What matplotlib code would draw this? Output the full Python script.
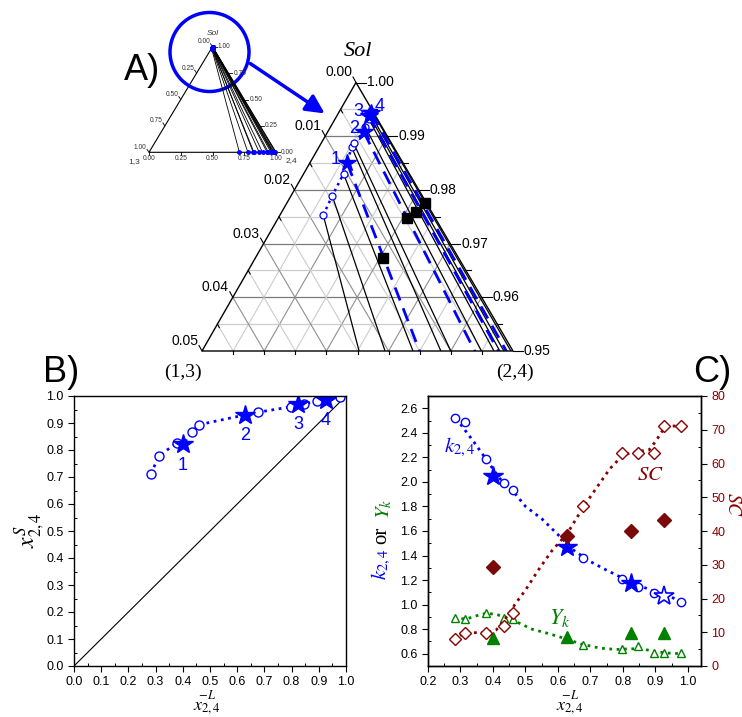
import numpy as np
import matplotlib.pyplot as plt
from matplotlib.patches import Polygon, Circle
from matplotlib.ticker import MultipleLocator

plt.rcParams['font.family'] = ['Liberation Sans', 'DejaVu Sans']
plt.rcParams['mathtext.fontset'] = 'stix'

# ---------------- data ----------------
# open points: liquid / solid mole fraction of (2,4), total solute in liquid
xL_open = [0.282, 0.314, 0.377, 0.435, 0.461, 0.678, 0.797, 0.847, 0.895, 0.978]
xS_open = [0.712, 0.779, 0.826, 0.868, 0.894, 0.940, 0.960, 0.972, 0.980, 0.995]
sol_open = [0.0247, 0.0211, 0.0170, 0.0120, 0.0113, 0.0083, 0.0068, 0.0060, 0.0058, 0.0055]

# starred points 1-4
xL_star = [0.401, 0.629, 0.825, 0.926]
xS_star = [0.821, 0.930, 0.970, 0.985]
sol_star = [0.0150, 0.0092, 0.0062, 0.0057]
star_names = ['1', '2', '3', '4']

# black squares in the ternary: Sol fraction, (2,4) fraction
sq_sol = [0.9673, 0.9748, 0.9758, 0.9775]
sq_b = [0.0205, 0.0206, 0.0217, 0.0222]

# panel C
k_circ = [2.519, 2.486, 2.185, 1.992, 1.932, 1.379, 1.208, 1.143, 1.094, 1.021]
k_star = [2.052, 1.466, 1.175, 1.067]
xC_open = [0.282, 0.314, 0.377, 0.435, 0.461, 0.678, 0.797, 0.847, 0.895, 0.926, 0.978]
sc_open = [7.9, 9.8, 9.9, 11.9, 15.6, 47.4, 63.2, 63.2, 63.2, 71.2, 71.2]
yk_open = [0.890, 0.882, 0.935, 0.888, 0.882, 0.668, 0.641, 0.660, 0.605, 0.605, 0.605]
sc_star = [29.4, 38.5, 40.1, 43.3]
yk_star = [0.728, 0.736, 0.768, 0.768]

# fitted (dotted) curves
k_fit_x = [0.30, 0.34, 0.38, 0.42, 0.46, 0.50, 0.55, 0.60, 0.65, 0.70, 0.75, 0.80, 0.85, 0.90, 0.95, 0.98]
k_fit_y = [2.47, 2.33, 2.18, 2.03, 1.93, 1.80, 1.70, 1.57, 1.44, 1.35, 1.28, 1.215, 1.155, 1.105, 1.06, 1.02]
yk_fit_x = [0.28, 0.32, 0.35, 0.38, 0.41, 0.45, 0.48, 0.52, 0.57, 0.62, 0.67, 0.73, 0.78, 0.82, 0.86, 0.90, 0.94, 0.98]
yk_fit_y = [0.885, 0.885, 0.91, 0.93, 0.92, 0.89, 0.85, 0.80, 0.765, 0.725, 0.68, 0.645, 0.635, 0.64, 0.64, 0.615, 0.605, 0.60]
sc_fit_x = [0.28, 0.31, 0.35, 0.38, 0.41, 0.43, 0.45, 0.47, 0.50, 0.54, 0.58, 0.63, 0.68, 0.72, 0.76, 0.80, 0.84, 0.88, 0.90, 0.93, 0.98]
sc_fit_y = [7.7, 9.7, 9.9, 9.9, 10.7, 13.0, 15.6, 18.6, 22.5, 28.5, 34.0, 39.5, 47.4, 53.0, 58.5, 62.5, 63.5, 64.0, 66.5, 71.0, 71.2]

BLUE = '#0000ff'
DRED = '#8b0000'
GREEN = '#008000'

W, H = 742, 717
fig = plt.figure(figsize=(W / 100, H / 100), dpi=100)

# overlay in pixel coordinates for the ternary parts and free labels
ov = fig.add_axes([0, 0, 1, 1])
ov.set_xlim(0, W)
ov.set_ylim(H, 0)
ov.axis('off')


def tern(s, b, tri, s0):
    (ax_, ay_), (lx, ly), (rx, ry) = tri
    w = 1 - s0
    sp = (np.asarray(s, float) - s0) / w
    bp = np.asarray(b, float) / w
    return lx + bp * (rx - lx) + sp * (ax_ - lx), ly + sp * (ay_ - ly)


# ---------------- A) zoomed ternary ----------------
TRI = [(356, 82.5), (202, 351), (513, 351)]
S0 = 0.95
w = 1 - S0

for k in range(1, 10):
    v = k / 10
    cmaj = k % 2 == 0
    x, y = tern([S0 + v * w] * 2, [0, (1 - v) * w], TRI, S0)
    ov.plot(x, y, color='#7a7a7a' if cmaj else '#cccccc', lw=0.9, zorder=1)
    x, y = tern([S0, S0 + (1 - v) * w], [v * w, v * w], TRI, S0)
    ov.plot(x, y, color='#8f8f8f' if cmaj else '#cccccc', lw=0.8, zorder=1)
    x, y = tern([S0, S0 + (1 - v) * w], [(1 - v) * w, 0], TRI, S0)
    ov.plot(x, y, color='#8f8f8f' if cmaj else '#cccccc', lw=0.8, zorder=1)

tri_patch = Polygon(TRI, closed=True, fill=False, ec='black', lw=1.0, zorder=3)
ov.add_patch(tri_patch)

# ticks and labels
for k in range(0, 11):
    v = k / 10
    major = k % 2 == 0
    # right axis (Sol)
    x, y = tern(S0 + v * w, (1 - v) * w, TRI, S0)
    ov.plot([x, x + (10 if major else 5)], [y, y], color='black', lw=0.8)
    if major:
        ov.text(x + 11, y, f'{S0 + v * w:.2f}', fontsize=10, ha='left', va='center')
    # left axis (1,3)
    x, y = tern(S0 + v * w, 0, TRI, S0)
    if major:
        ov.plot([x, x - 3], [y, y - 5.5], color='black', lw=0.8)
        ov.text(x - 4, y - 3, f'{(1 - v) * w:.2f}', fontsize=10, ha='right', va='bottom')
    else:
        ov.plot([x, x + 2], [y, y + 3.5], color='black', lw=0.8)
    # bottom axis
    if 0 < k < 10:
        x, y = tern(S0, v * w, TRI, S0)
        ov.plot([x, x], [y, y + 3], color='black', lw=0.8)

ov.text(358, 52, 'Sol', fontsize=16, family='Liberation Serif', style='italic',
        ha='center', va='center')
ov.text(183, 372, '(1,3)', fontsize=14, family='Liberation Serif', ha='center', va='center')
ov.text(515, 372, '(2,4)', fontsize=14, family='Liberation Serif', ha='center', va='center')

# tie lines
for xl, xs, sl in zip(xL_open, xS_open, sol_open):
    x, y = tern([1 - sl, 0], [xl * sl, xs], TRI, S0)
    ln, = ov.plot(x, y, color='black', lw=0.9, zorder=2)
    ln.set_clip_path(tri_patch)
for xl, xs, sl in zip(xL_star, xS_star, sol_star):
    x, y = tern([1 - sl, 0], [xl * sl, xs], TRI, S0)
    ln, = ov.plot(x, y, color=BLUE, lw=2, ls=(0, (5, 3)), zorder=2)
    ln.set_clip_path(tri_patch)

# liquid compositions
xl_all = np.array(xL_open + xL_star)
sl_all = np.array(sol_open + sol_star)
order = np.argsort(xl_all)
x, y = tern(1 - sl_all[order], (xl_all * sl_all)[order], TRI, S0)
ov.plot(x, y, ':', color=BLUE, lw=1.8, zorder=4)
x, y = tern(1 - np.array(sol_open), np.array(xL_open) * np.array(sol_open), TRI, S0)
ov.plot(x, y, 'o', ms=5, mfc='white', mec=BLUE, mew=0.9, zorder=5)
xs_, ys_ = tern(1 - np.array(sol_star), np.array(xL_star) * np.array(sol_star), TRI, S0)
ov.plot(xs_, ys_, '*', ms=13, color=BLUE, zorder=6)
for name, px, py, dx, dy in zip(star_names, xs_, ys_, [-12, -10, -10, 8], [-4, -3, -4, -7]):
    ov.text(px + dx, py + dy, name, color=BLUE, fontsize=13, ha='center', va='center', zorder=7)

x, y = tern(sq_sol, sq_b, TRI, S0)
ov.plot(x, y, 's', color='black', ms=7, zorder=5)

# ---------------- inset: full ternary ----------------
INS = [(212.5, 46.7), (149, 152.3), (276, 152.3)]
ov.add_patch(Polygon(INS, closed=True, fill=False, ec='black', lw=0.8))
for v in [0, 0.25, 0.5, 0.75, 1.0]:
    x, y = tern(1 - v, 0, INS, 0)
    ov.plot([x, x - 2], [y, y - 3], color='black', lw=0.6)
    ov.text(x - 2.5, y - 1.5, f'{v:.2f}', fontsize=4.8, color='#333333', ha='right', va='bottom')
    x, y = tern(v, 1 - v, INS, 0)
    ov.plot([x, x + 4], [y, y], color='black', lw=0.6)
    ov.text(x + 5, y, f'{v:.2f}', fontsize=4.8, color='#333333', ha='left', va='center')
    x, y = tern(0, v, INS, 0)
    ov.plot([x, x], [y, y + 2.5], color='black', lw=0.6)
    ov.text(x, y + 3, f'{v:.2f}', fontsize=4.8, color='#333333', ha='center', va='top')
ov.text(212.5, 33.5, 'Sol', fontsize=6, style='italic', color='#333333', ha='center', va='center')
ov.text(134, 162, '1,3', fontsize=6, color='#333333', ha='center', va='center')
ov.text(291, 161, '2,4', fontsize=6, color='#333333', ha='center', va='center')

xs_all = np.array(xS_open + xS_star)
for xl, xs, sl in zip(xl_all, xs_all, sl_all):
    x, y = tern([1 - sl, 0], [xl * sl, xs], INS, 0)
    ov.plot(x, y, color='black', lw=0.6)
x, y = tern(np.zeros_like(xs_all), xs_all, INS, 0)
ov.plot(x, y, 'o', ms=2.5, color=BLUE)
x, y = tern(1 - sl_all, xl_all * sl_all, INS, 0)
ov.plot(x, y, 'o', ms=2.5, color=BLUE)

ov.add_patch(Circle((209.5, 52), 39.5, fill=False, ec=BLUE, lw=2.5))
ov.annotate('', xy=(327, 115), xytext=(248, 62),
            arrowprops=dict(arrowstyle='-|>', mutation_scale=28, lw=2.5, color=BLUE))

ov.text(142, 70, 'A)', fontsize=26, ha='center', va='center')
ov.text(61, 372, 'B)', fontsize=26, ha='center', va='center')
ov.text(712, 372, 'C)', fontsize=26, ha='center', va='center')


def style_ax(a):
    a.tick_params(which='major', direction='out', length=4, width=0.8, labelsize=9)
    a.tick_params(which='minor', direction='in', length=2.5, width=0.7)
    for sp in a.spines.values():
        sp.set_linewidth(1.0)


# ---------------- B) ----------------
axB = fig.add_axes([74 / W, 1 - 666 / H, 272 / W, 270 / H])
axB.plot([0, 1], [0, 1], color='black', lw=0.8)
xb = np.array(xL_open + xL_star)
yb = np.array(xS_open + xS_star)
ob = np.argsort(xb)
axB.plot(xb[ob], yb[ob], ':', color=BLUE, lw=2)
axB.plot(xL_open, xS_open, 'o', ms=6.5, mfc='white', mec=BLUE, mew=1)
axB.plot(xL_star, xS_star, '*', ms=15, color=BLUE)
for name, px, py in zip(star_names, xL_star, xS_star):
    axB.annotate(name, (px, py), xytext=(0, -15), textcoords='offset points',
                 color=BLUE, fontsize=13, ha='center', va='center')
axB.set_xlim(0, 1)
axB.set_ylim(0, 1)
axB.xaxis.set_major_locator(MultipleLocator(0.1))
axB.yaxis.set_major_locator(MultipleLocator(0.1))
axB.xaxis.set_minor_locator(MultipleLocator(0.05))
axB.yaxis.set_minor_locator(MultipleLocator(0.05))
style_ax(axB)

ov.text(30, 530, '$x^{S}_{2,4}$', fontsize=17, rotation=90, ha='center', va='center')
for cx in [207, 570]:
    ov.text(cx, 703, r'$\overset{-L}{x_{2,4}}$', fontsize=13, ha='center', va='center')

# ---------------- C) ----------------
axC = fig.add_axes([428 / W, 1 - 666 / H, 273 / W, 270 / H])
axC.plot(k_fit_x, k_fit_y, ':', color=BLUE, lw=2)
axC.plot(yk_fit_x, yk_fit_y, ':', color=GREEN, lw=2)
axC.plot(xL_open, k_circ, 'o', ms=6, mfc='white', mec=BLUE, mew=1)
axC.plot(xL_star[:3], k_star[:3], '*', ms=15, color=BLUE)
axC.plot(xL_star[3:], k_star[3:], '*', ms=15, mfc='white', mec=BLUE, mew=1.2)
axC.plot(xC_open, yk_open, '^', ms=5.5, mfc='white', mec=GREEN, mew=1)
axC.plot(xL_star, yk_star, '^', ms=9, color=GREEN)
axC.text(0.298, 2.283, '$k_{2,4}$', color=BLUE, fontsize=15, ha='center', va='center')
axC.text(0.606, 0.893, '$Y_k$', color=GREEN, fontsize=16, ha='center', va='center')
axC.set_xlim(0.2, 1.04)
axC.set_ylim(0.5, 2.7)
axC.set_yticks(np.arange(0.6, 2.61, 0.2))
axC.xaxis.set_major_locator(MultipleLocator(0.1))
axC.xaxis.set_minor_locator(MultipleLocator(0.05))
axC.yaxis.set_minor_locator(MultipleLocator(0.1))
style_ax(axC)

axC2 = axC.twinx()
axC2.plot(sc_fit_x, sc_fit_y, ':', color=DRED, lw=2)
axC2.plot(xC_open, sc_open, 'D', ms=6, mfc='white', mec=DRED, mew=1)
axC2.plot(xL_star, sc_star, 'D', ms=7, color='#7a0a0a')
axC2.text(0.883, 56.6, '$SC$', color=DRED, fontsize=15, ha='center', va='center')
axC2.set_ylim(0, 80)
axC2.yaxis.set_major_locator(MultipleLocator(10))
axC2.yaxis.set_minor_locator(MultipleLocator(5))
style_ax(axC2)
axC2.tick_params(axis='y', labelcolor=DRED)

ov.text(381, 564, '$k_{2,4}$', color=BLUE, fontsize=15, rotation=90, ha='center', va='center')
ov.text(382, 535, 'or', color='black', fontsize=15, family='Liberation Serif',
        rotation=90, ha='center', va='center')
ov.text(384, 509, '$Y_k$', color=GREEN, fontsize=15, rotation=90, ha='center', va='center')
ov.text(733, 505, '$SC$', color=DRED, fontsize=14, rotation=270, ha='center', va='center')

fig.savefig('out.png', dpi=100)
